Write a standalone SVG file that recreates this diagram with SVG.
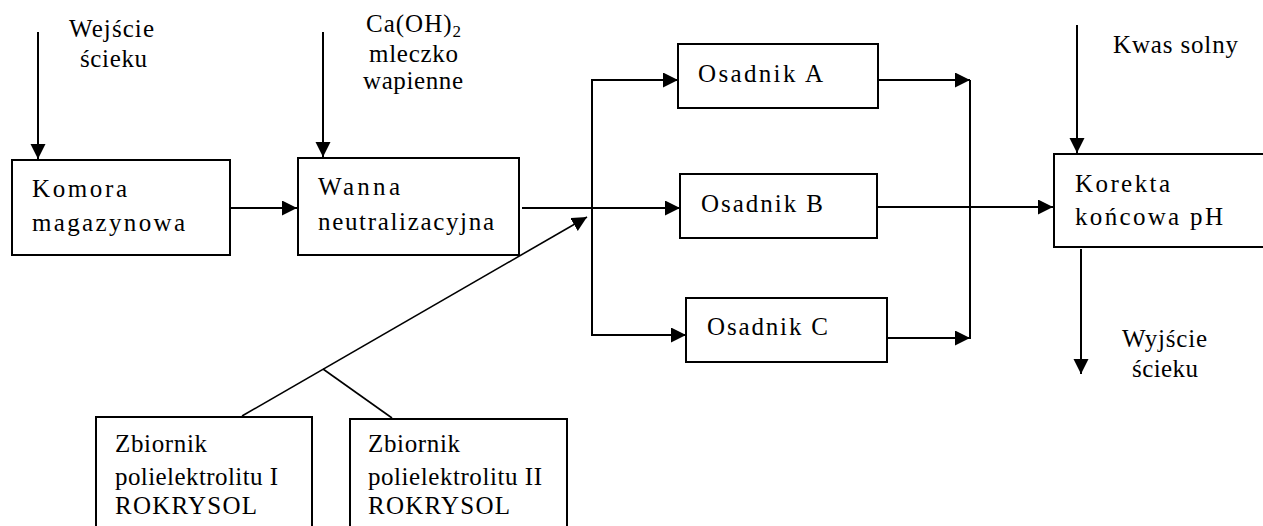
<svg xmlns="http://www.w3.org/2000/svg" width="1263" height="526" viewBox="0 0 1263 526">
<style>
.box{fill:#fff;stroke:#000;stroke-width:2}
.t{font-family:"Liberation Serif","Times New Roman",serif;font-size:25px;fill:#000}
.c{fill:none;stroke:#000;stroke-width:2}
.d{fill:none;stroke:#000;stroke-width:1.6}
.a{marker-end:url(#ah)}
</style>
<defs>
<marker id="ah" markerUnits="userSpaceOnUse" markerWidth="16" markerHeight="16" refX="15" refY="7.5" orient="auto">
<path d="M0,0 L15,7.5 L0,15 z" fill="#000"/>
</marker>
</defs>
<rect width="1263" height="526" fill="#fff"/>
<g id="connectors">
<line class="c a" x1="38" y1="32" x2="38" y2="159"/>
<line class="c a" x1="323" y1="32" x2="323" y2="157"/>
<line class="c a" x1="230" y1="208" x2="297" y2="208"/>
<line class="c a" x1="522" y1="208" x2="680" y2="208"/>
<polyline class="c" points="678,80 592,80 592,335 686,335"/>
<line class="c a" x1="592" y1="80" x2="678" y2="80"/>
<line class="c a" x1="592" y1="335" x2="686" y2="335"/>
<line class="c a" x1="878" y1="80" x2="970" y2="80"/>
<line class="c" x1="970" y1="80" x2="970" y2="339"/>
<line class="c a" x1="887" y1="338" x2="970" y2="338"/>
<line class="c a" x1="877" y1="207" x2="1053" y2="207"/>
<line class="c a" x1="1077" y1="25" x2="1077" y2="153"/>
<line class="c a" x1="1081" y1="249" x2="1081" y2="374"/>
<line class="d a" x1="242" y1="416" x2="587" y2="217"/>
<line class="d" x1="323" y1="369" x2="392" y2="418"/>
</g>
<g id="lbl-in">
<text class="t" x="69" y="37" textLength="85" lengthAdjust="spacing">Wejście</text>
<text class="t" x="80" y="67" textLength="67" lengthAdjust="spacing">ścieku</text>
</g>
<g id="lbl-ca">
<text class="t" x="366" y="32" letter-spacing="1">Ca(OH)<tspan font-size="17" dy="5">2</tspan></text>
<text class="t" x="369" y="62" textLength="89" lengthAdjust="spacing">mleczko</text>
<text class="t" x="363" y="89" textLength="100" lengthAdjust="spacing">wapienne</text>
</g>
<g id="komora">
<rect class="box" x="12" y="160" width="218" height="95"/>
<text class="t" x="32" y="197" textLength="95" lengthAdjust="spacing">Komora</text>
<text class="t" x="32" y="231" textLength="153" lengthAdjust="spacing">magazynowa</text>
</g>
<g id="wanna">
<rect class="box" x="298" y="158" width="221" height="97"/>
<text class="t" x="318" y="195" textLength="82" lengthAdjust="spacing">Wanna</text>
<text class="t" x="318" y="230" textLength="176" lengthAdjust="spacing">neutralizacyjna</text>
</g>
<g id="osadnikA">
<rect class="box" x="678" y="44" width="200" height="64"/>
<text class="t" x="698" y="82" textLength="125" lengthAdjust="spacing">Osadnik A</text>
</g>
<g id="osadnikB">
<rect class="box" x="680" y="174" width="197" height="64"/>
<text class="t" x="701" y="212" textLength="122" lengthAdjust="spacing">Osadnik B</text>
</g>
<g id="osadnikC">
<rect class="box" x="686" y="298" width="201" height="64"/>
<text class="t" x="707" y="335" textLength="121" lengthAdjust="spacing">Osadnik C</text>
</g>
<g id="lbl-kwas">
<text class="t" x="1113" y="53" textLength="125" lengthAdjust="spacing">Kwas solny</text>
</g>
<g id="korekta">
<rect class="box" x="1054" y="154" width="230" height="93"/>
<text class="t" x="1075" y="192" textLength="95" lengthAdjust="spacing">Korekta</text>
<text class="t" x="1075" y="225" textLength="148" lengthAdjust="spacing">końcowa pH</text>
</g>
<g id="lbl-out">
<text class="t" x="1122" y="347" textLength="85" lengthAdjust="spacing">Wyjście</text>
<text class="t" x="1132" y="377" textLength="66" lengthAdjust="spacing">ścieku</text>
</g>
<g id="zbiornik1">
<rect class="box" x="96" y="417" width="216" height="130"/>
<text class="t" x="115" y="452" textLength="92" lengthAdjust="spacing">Zbiornik</text>
<text class="t" x="115" y="485" textLength="163" lengthAdjust="spacing">polielektrolitu I</text>
<text class="t" x="115" y="514" textLength="142" lengthAdjust="spacing">ROKRYSOL</text>
</g>
<g id="zbiornik2">
<rect class="box" x="350" y="419" width="217" height="130"/>
<text class="t" x="368" y="452" textLength="92" lengthAdjust="spacing">Zbiornik</text>
<text class="t" x="368" y="485" textLength="174" lengthAdjust="spacing">polielektrolitu II</text>
<text class="t" x="368" y="514" textLength="142" lengthAdjust="spacing">ROKRYSOL</text>
</g>
</svg>
